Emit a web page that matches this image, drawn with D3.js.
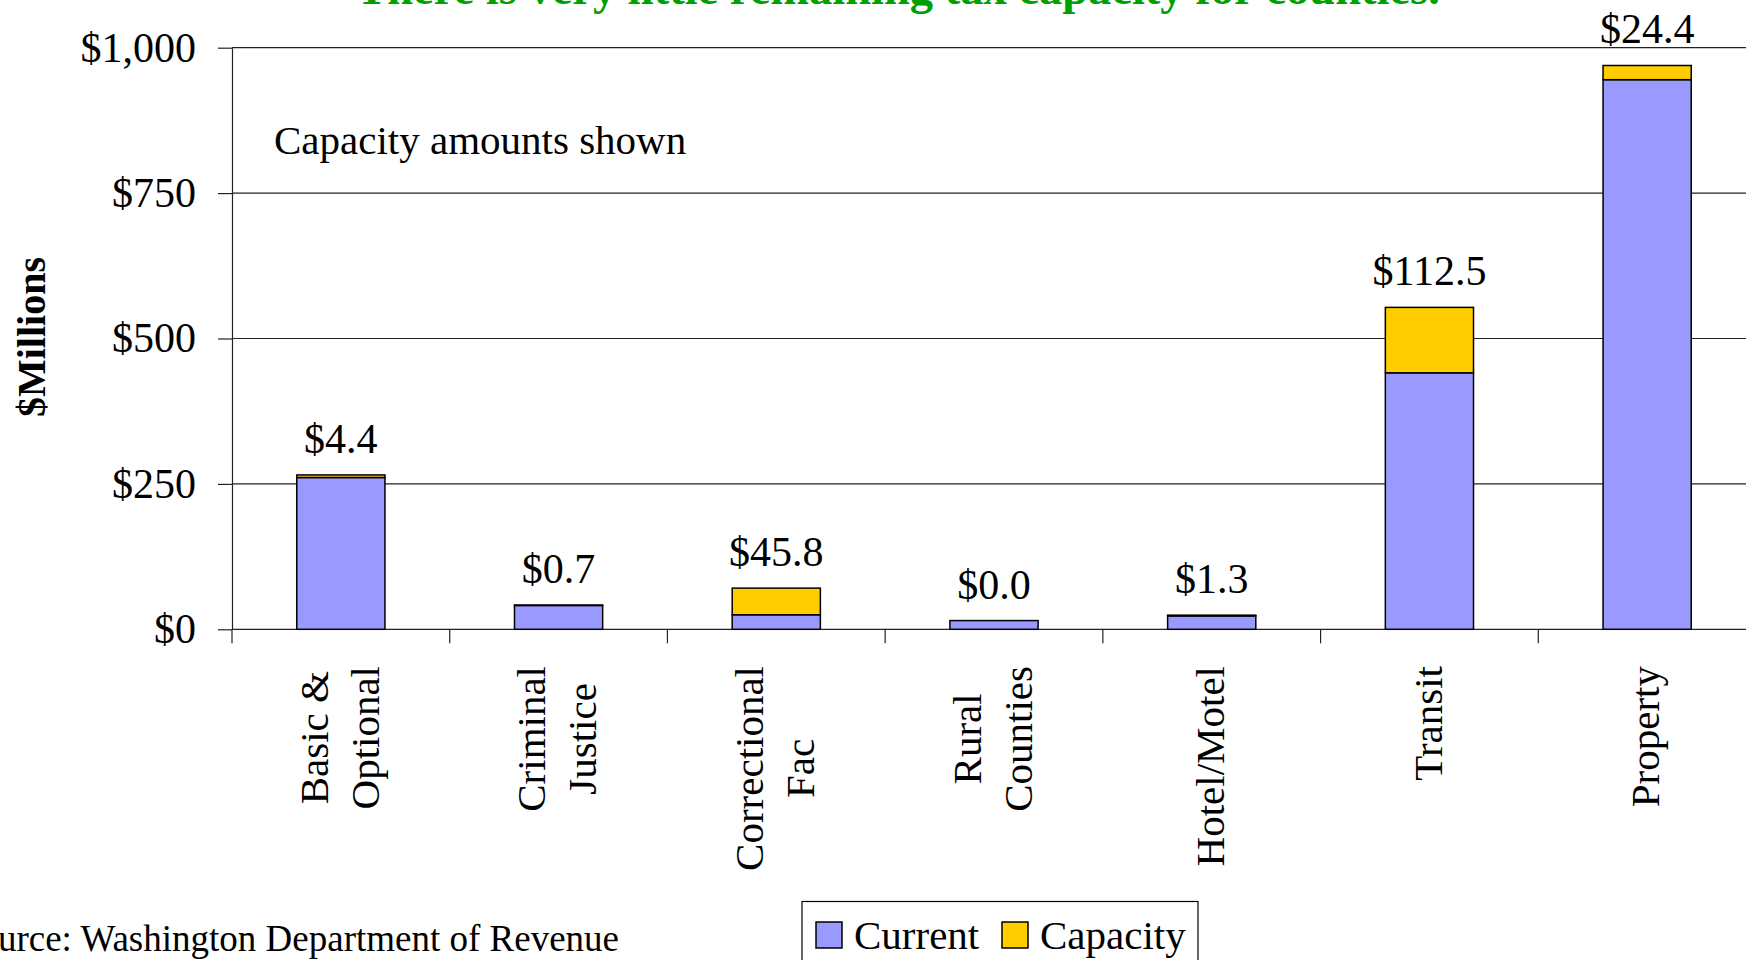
<!DOCTYPE html>
<html>
<head>
<meta charset="utf-8">
<script src="https://cdn.jsdelivr.net/npm/d3@7"></script>
<style>
  html, body { margin: 0; padding: 0; background: #fff; overflow: hidden; }
  text { font-family: "Liberation Serif", "Times New Roman", serif; }
</style>
</head>
<body>
<div id="chart"></div>
<script>
const categories = [
  ["Basic &", "Optional"],
  ["Criminal", "Justice"],
  ["Correctional", "Fac"],
  ["Rural", "Counties"],
  ["Hotel/Motel"],
  ["Transit"],
  ["Property"]
];
const currentValues = [261, 41, 25, 15, 23, 441, 945];
const capacityValues = [4.4, 0.7, 45.8, 0.0, 1.3, 112.5, 24.4];
const yTicks = [0, 250, 500, 750, 1000];
const seriesNames = ["Current", "Capacity"];

const W = 1746, H = 960;
const plot = { left: 232, right: 1756, top: 47.7, bottom: 629.3 };
const colors = { Current: "#9999FF", Capacity: "#FFCC00" };

const svg = d3.select("#chart").append("svg")
  .attr("width", W).attr("height", H)
  .style("display", "block");

svg.append("rect").attr("width", W).attr("height", H).attr("fill", "#fff");

const x = d3.scaleBand()
  .domain(d3.range(categories.length))
  .range([plot.left, plot.right])
  .paddingInner(0.595)
  .paddingOuter(0.2975);

const y = d3.scaleLinear().domain([0, 1000]).range([plot.bottom, plot.top]);

// title (mostly clipped off the top in the original)
svg.append("text")
  .attr("x", 898).attr("y", 4)
  .attr("text-anchor", "middle")
  .style("font-size", "46.5px").style("font-weight", "bold")
  .attr("fill", "#00A000")
  .text("There is very little remaining tax capacity for counties.");

// gridlines
svg.append("g")
  .selectAll("line")
  .data(yTicks.filter(d => d > 0))
  .enter().append("line")
  .attr("x1", plot.left).attr("x2", W)
  .attr("y1", d => y(d)).attr("y2", d => y(d))
  .attr("stroke", "#222").attr("stroke-width", 1.2);

// y axis
const yAxis = svg.append("g")
  .attr("transform", `translate(${plot.left},0)`)
  .call(d3.axisLeft(y).tickValues(yTicks)
    .tickFormat(d => "$" + d3.format(",")(d))
    .tickSizeInner(14).tickSizeOuter(0).tickPadding(22));
yAxis.select(".domain").attr("stroke", "#222").attr("stroke-width", 1.2);
yAxis.selectAll(".tick line").attr("stroke", "#222").attr("stroke-width", 1.2);
yAxis.selectAll("text")
  .style("font-size", "42px").attr("fill", "#000")
  .style("font-family", "'Liberation Serif', 'Times New Roman', serif");

svg.append("text")
  .attr("transform", "translate(45,337) rotate(-90)")
  .attr("text-anchor", "middle")
  .style("font-size", "40px").style("font-weight", "bold")
  .text("$Millions");

// x baseline + category boundary ticks
svg.append("line")
  .attr("x1", plot.left).attr("x2", W)
  .attr("y1", plot.bottom).attr("y2", plot.bottom)
  .attr("stroke", "#222").attr("stroke-width", 1.2);

const step = x.step();
svg.append("g")
  .selectAll("line")
  .data(d3.range(categories.length + 1))
  .enter().append("line")
  .attr("x1", i => plot.left + i * step).attr("x2", i => plot.left + i * step)
  .attr("y1", plot.bottom).attr("y2", plot.bottom + 14)
  .attr("stroke", "#222").attr("stroke-width", 1.2);

// stacked bars
const stacked = categories.map((c, i) => ({
  i,
  Current: currentValues[i],
  Capacity: capacityValues[i]
}));
const series = d3.stack().keys(seriesNames)(stacked);

svg.append("g")
  .selectAll("g")
  .data(series)
  .enter().append("g")
  .attr("fill", d => colors[d.key])
  .selectAll("rect")
  .data(d => d)
  .enter().append("rect")
  .attr("x", d => x(d.data.i))
  .attr("width", x.bandwidth())
  .attr("y", d => y(d[1]))
  .attr("height", d => y(d[0]) - y(d[1]))
  .attr("stroke", "#000").attr("stroke-width", 1.5);

// capacity labels
svg.append("g")
  .selectAll("text")
  .data(stacked)
  .enter().append("text")
  .attr("x", d => x(d.i) + x.bandwidth() / 2)
  .attr("y", d => y(d.Current + d.Capacity) - 22)
  .attr("text-anchor", "middle")
  .style("font-size", "42px")
  .text(d => "$" + d3.format(".1f")(d.Capacity));

// rotated category labels, block top-aligned, lines centred
const fs = 41, lh = 51, blockTop = 666;
const catG = svg.append("g");
categories.forEach((lines, i) => {
  const cx = x(i) + x.bandwidth() / 2;
  const g = catG.append("g");
  const texts = lines.map((t, j) => g.append("text")
    .attr("text-anchor", "middle")
    .style("font-size", fs + "px")
    .attr("y", (j - (lines.length - 1) / 2) * lh + 0.3 * fs)
    .text(t));
  const maxLen = d3.max(texts, t => t.node().getComputedTextLength());
  g.attr("transform", `translate(${cx},${blockTop + maxLen / 2}) rotate(-90)`);
});

// note inside plot
svg.append("text")
  .attr("x", 274).attr("y", 154)
  .style("font-size", "41px")
  .text("Capacity amounts shown");

// source
svg.append("text")
  .attr("x", 619).attr("y", 951)
  .attr("text-anchor", "end")
  .style("font-size", "37px")
  .text("Source: Washington Department of Revenue");

// legend
const legend = svg.append("g");
legend.append("rect")
  .attr("x", 802).attr("y", 901.5)
  .attr("width", 396).attr("height", 80)
  .attr("fill", "#fff").attr("stroke", "#000").attr("stroke-width", 1.2);

const legendX = [816, 1002];
seriesNames.forEach((name, i) => {
  legend.append("rect")
    .attr("x", legendX[i]).attr("y", 922)
    .attr("width", 26).attr("height", 26)
    .attr("fill", colors[name]).attr("stroke", "#000").attr("stroke-width", 1.5);
  legend.append("text")
    .attr("x", legendX[i] + 38).attr("y", 949)
    .style("font-size", "41px")
    .text(name);
});
</script>
</body>
</html>
